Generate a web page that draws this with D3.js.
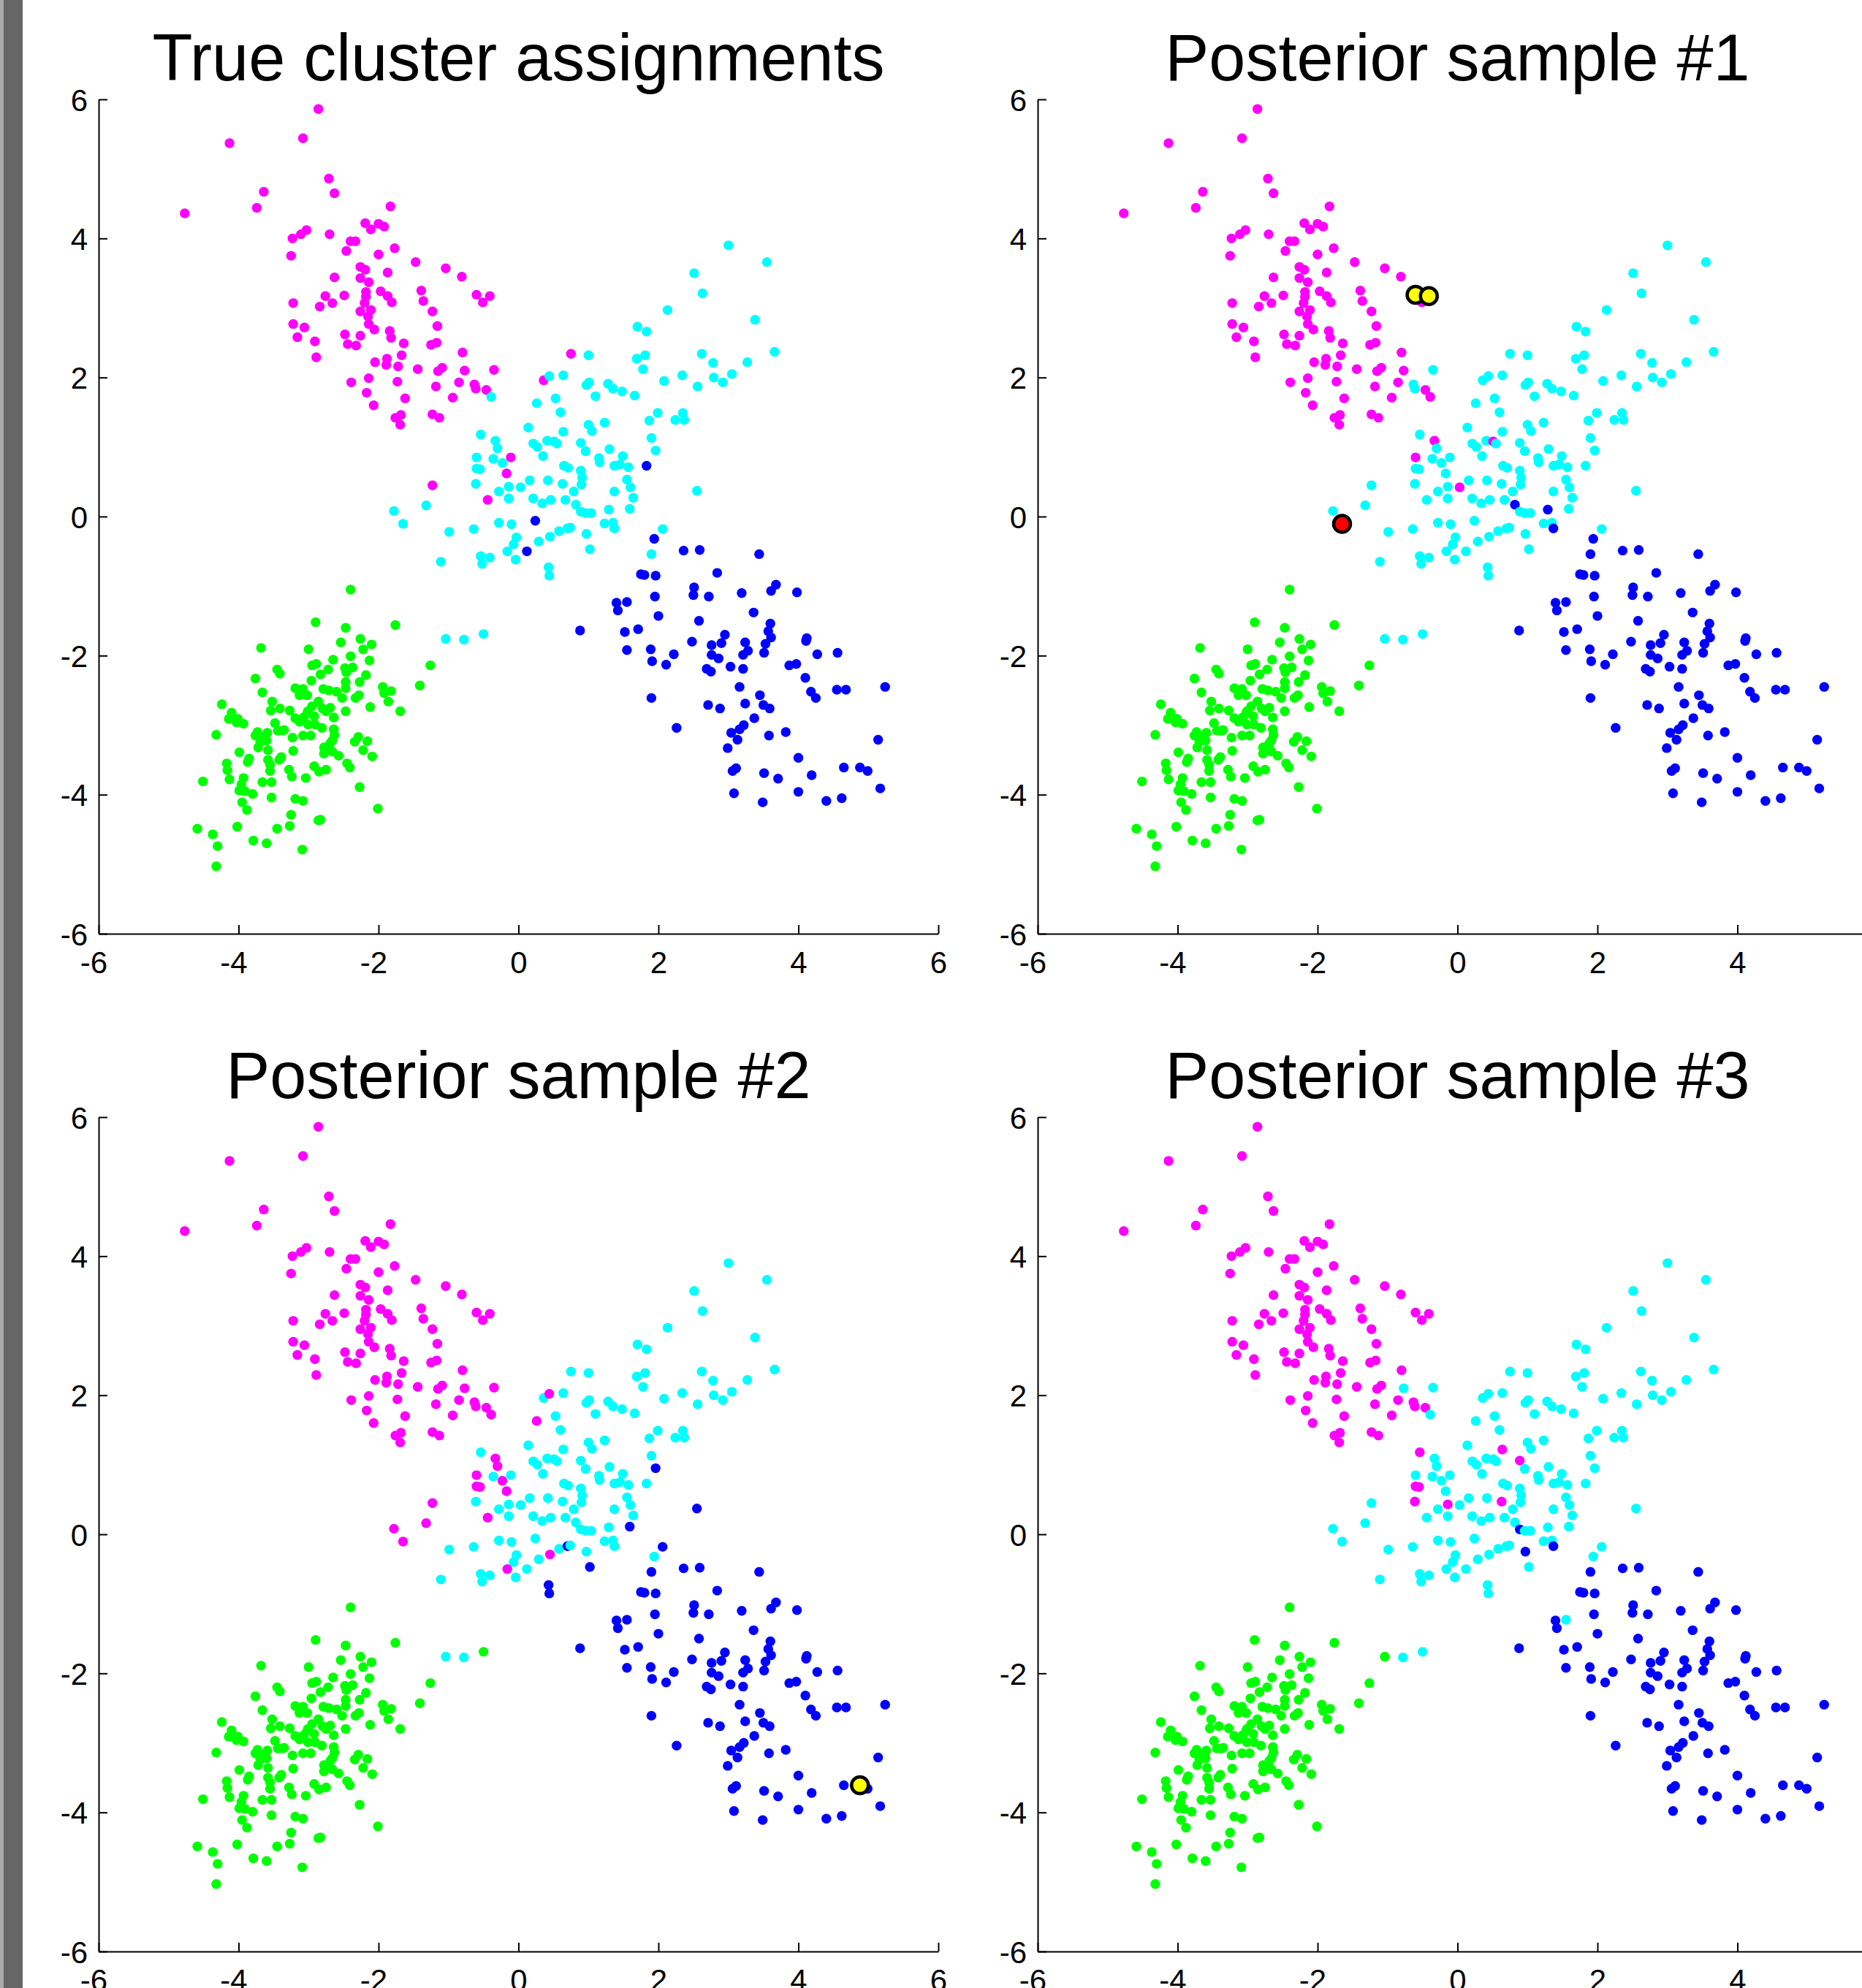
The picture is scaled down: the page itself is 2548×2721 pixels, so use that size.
<!DOCTYPE html>
<html>
<head>
<meta charset="utf-8">
<script src="https://cdn.jsdelivr.net/npm/d3@7"></script>
<style>
  body { margin: 0; background: #fff; overflow: hidden; }
  svg { display: block; }
  text { font-family: "Liberation Sans", Arial, Helvetica, sans-serif; }
</style>
</head>
<body>
<script>
// panel titles, in reading order
var titles = ["True cluster assignments", "Posterior sample #1", "Posterior sample #2", "Posterior sample #3"]
var tickValues = [-6, -4, -2, 0, 2, 4, 6]

// each point: [x, y, labels] -- labels = cluster in (truth, sample1, sample2, sample3)
// M magenta, C cyan, B blue, G green
var upperLeftPoints = [
  [-2.86,5.86,"MMMM"],[-3.08,5.44,"MMMM"],[-4.13,5.37,"MMMM"],[-2.71,4.86,"MMMM"],[-2.63,4.65,"MMMM"],
  [-3.64,4.67,"MMMM"],[-3.74,4.44,"MMMM"],[-4.77,4.36,"MMMM"],[-1.83,4.46,"MMMM"],[-2.19,4.22,"MMMM"],
  [-2.11,4.13,"MMMM"],[-2.00,4.21,"MMMM"],[-1.92,4.17,"MMMM"],[-3.03,4.12,"MMMM"],[-3.11,4.06,"MMMM"],
  [-3.23,4.00,"MMMM"],[-2.70,4.06,"MMMM"],[-2.40,3.96,"MMMM"],[-2.33,3.96,"MMMM"],[-2.46,3.82,"MMMM"],
  [-3.25,3.75,"MMMM"],[-2.00,3.77,"MMMM"],[-1.77,3.86,"MMMM"],[-1.47,3.66,"MMMM"],[-1.04,3.57,"MMMM"],
  [-0.81,3.45,"MMMM"],[-2.26,3.59,"MMMM"],[-2.19,3.55,"MMMM"],[-1.87,3.51,"MMMM"],[-2.63,3.44,"MMMM"],
  [-2.26,3.43,"MMMM"],[-2.14,3.37,"MMMM"],[-1.39,3.25,"MMMM"],[-0.60,3.19,"MMMM"],[-0.41,3.17,"MMMM"],
  [-0.51,3.08,"MMMM"],[-1.36,3.10,"MMMM"],[-1.23,2.95,"MMMM"],[-1.97,3.24,"MMMM"],[-1.87,3.17,"MMMM"],
  [-1.81,3.08,"MMMM"],[-2.18,3.23,"MMMM"],[-2.18,3.16,"MMMM"],[-2.20,3.07,"MMMM"],[-2.76,3.17,"MMMM"],
  [-2.49,3.18,"MMMM"],[-2.66,3.07,"MMMM"],[-2.84,3.02,"MMMM"],[-3.22,3.07,"MMMM"],[-2.26,2.95,"MMMM"],
  [-2.11,2.97,"MMMM"],[-2.15,2.88,"MMMM"],[-2.14,2.77,"MMMM"],[-2.06,2.69,"MMMM"],[-1.16,2.74,"MMMM"],
  [-3.22,2.77,"MMMM"],[-3.06,2.72,"MMMM"],[-3.16,2.58,"MMMM"],[-2.91,2.52,"MMMM"],[-2.89,2.29,"MMMM"],
  [-2.48,2.62,"MMMM"],[-2.26,2.60,"MMMM"],[-2.44,2.48,"MMMM"],[-2.32,2.46,"MMMM"],[-1.84,2.67,"MMMM"],
  [-1.82,2.57,"MMMM"],[-1.64,2.49,"MMMM"],[-1.67,2.32,"MMMM"],[-1.25,2.47,"MMMM"],[-1.17,2.50,"MMMM"],
  [-0.80,2.36,"MMMM"],[-2.05,2.22,"MMMM"],[-1.88,2.27,"MMMM"],[-1.89,2.18,"MMMM"],[-1.72,2.16,"MMMM"],
  [-1.44,2.12,"MMMM"],[-1.15,2.09,"MMMM"],[-1.09,2.14,"MMMM"],[-0.77,2.10,"MMMC"],[-0.35,2.11,"MCMC"],
  [-2.39,1.93,"MMMM"],[-2.14,1.99,"MMMM"],[-1.73,1.94,"MMMM"],[-1.18,1.87,"MMMM"],[-0.85,1.93,"MMMM"],
  [-0.63,1.90,"MCMM"],[-0.61,1.84,"MCMM"],[-0.46,1.82,"MMMM"],[-2.17,1.78,"MMMM"],[-1.62,1.70,"MMMM"],
  [-0.94,1.71,"MMMM"],[-2.07,1.60,"MMMM"],[-1.76,1.42,"MMMM"],[-1.68,1.46,"MMMM"],[-1.69,1.32,"MMMM"],
  [-1.23,1.47,"MMMM"],[-1.13,1.42,"MMMM"],[-0.39,1.72,"CMMC"],[-0.54,1.18,"CCCM"]
]

var centrePoints = [
  [2.51,3.50,"CCCC"],[2.63,3.21,"CCCC"],[2.13,2.97,"CCCC"],[1.70,2.73,"CCCC"],[1.83,2.66,"CCCC"],
  [0.75,2.34,"MCCC"],[1.00,2.32,"CCCC"],[1.69,2.27,"CCCC"],[1.81,2.32,"CCCC"],[1.78,2.12,"CCCC"],
  [2.62,2.34,"CCCC"],[0.36,1.96,"MCCC"],[0.44,2.02,"CCMC"],[0.64,2.03,"CCCC"],[0.97,1.89,"CCCC"],
  [1.01,1.93,"CCCC"],[1.28,1.91,"CCCC"],[1.35,1.84,"CCCC"],[1.48,1.80,"CCCC"],[1.66,1.74,"CCCC"],
  [1.10,1.73,"CCCC"],[2.08,1.95,"CCCC"],[2.34,2.03,"CCCC"],[2.56,1.87,"CCCC"],[0.26,1.63,"CCMC"],
  [0.53,1.70,"CCCC"],[0.60,1.50,"CCCC"],[1.99,1.49,"CCCC"],[1.87,1.38,"CCCC"],[2.24,1.39,"CCCC"],
  [2.35,1.49,"CCCC"],[2.37,1.39,"CCCC"],[0.14,1.28,"CCCC"],[0.64,1.22,"CCCM"],[1.00,1.32,"CCCC"],
  [1.05,1.23,"CCCC"],[1.23,1.35,"CCCC"],[1.90,1.13,"CCCC"],[-0.33,1.09,"CMMC"],[-0.30,0.98,"CCMC"],
  [-0.60,0.85,"CMMC"],[-0.60,0.69,"CCMM"],[-0.55,0.68,"CCMM"],[-0.36,0.83,"CCCC"],[-0.23,0.77,"CCMC"],
  [-0.11,0.85,"MCCC"],[-0.17,0.62,"MCMC"],[-0.61,0.47,"CCCM"],[-0.28,0.36,"CCCC"],[-0.14,0.43,"CCCM"],
  [0.03,0.42,"CMCC"],[0.16,0.52,"CCCC"],[0.42,0.52,"CCCC"],[0.21,1.05,"CCCC"],[0.27,1.00,"CCCC"],
  [0.41,1.09,"CCCC"],[0.51,1.08,"CMCC"],[0.55,1.05,"CCCC"],[0.35,0.87,"CCCC"],[0.89,1.06,"CCCM"],
  [0.96,0.94,"CCCC"],[0.65,0.73,"CCCC"],[0.71,0.70,"CCCC"],[0.89,0.66,"CCCC"],[0.91,0.56,"CCCC"],
  [0.90,0.46,"CCCC"],[1.15,0.84,"CCCC"],[1.16,0.78,"CCCC"],[1.30,0.97,"CCCC"],[1.49,0.87,"CCCC"],
  [1.37,0.73,"CCCC"],[1.45,0.75,"CCCC"],[1.57,0.71,"CCCC"],[1.83,0.73,"BCCC"],[1.96,0.95,"CCBC"],
  [1.55,0.53,"CCCC"],[1.60,0.42,"CCCC"],[1.64,0.27,"CCCC"],[1.59,0.11,"CCBC"],[1.37,0.36,"CCCC"],
  [2.55,0.37,"CCBC"],[0.63,0.47,"CCCM"],[0.79,0.36,"CCCC"],[0.67,0.24,"CCCC"],[0.21,0.26,"CCCC"],
  [0.34,0.19,"CCCC"],[0.46,0.24,"CCCC"],[-0.44,0.24,"MCMC"],[-0.14,0.26,"CCCC"],[-1.23,0.45,"MCMC"],
  [-1.32,0.16,"CCMC"],[-1.78,0.08,"CCMC"],[-1.65,-0.105,"CCMC"],[-0.99,-0.22,"CCCC"],[-0.64,-0.18,"CCCC"],
  [-0.28,-0.09,"CCCC"],[-0.10,-0.11,"CCCC"],[0.24,-0.06,"BCCC"],[0.82,0.17,"CBCC"],[0.89,0.07,"CCCB"],
  [0.96,0.05,"CCCC"],[1.04,0.05,"CCCC"],[1.29,0.10,"CBCC"],[1.23,-0.10,"CCCC"],[1.35,-0.09,"CCCC"],
  [1.37,-0.17,"CBCB"],[2.06,-0.18,"CCBC"],[0.58,-0.21,"CCCC"],[0.70,-0.17,"CCBC"],[0.74,-0.16,"CCCC"],
  [0.45,-0.29,"CCMC"],[0.29,-0.36,"CCCC"],[0.97,-0.25,"CCCB"],[1.02,-0.47,"CCBC"],[-0.03,-0.30,"CCCC"],
  [-0.07,-0.40,"CCCC"],[-0.16,-0.50,"CCMC"],[0.12,-0.50,"BCCC"],[-0.04,-0.62,"CCCC"],[-0.54,-0.57,"CCCC"],
  [-0.41,-0.59,"CCCC"],[-0.52,-0.68,"CCCC"],[-1.11,-0.65,"CCCC"],[0.43,-0.73,"CCBC"],[0.44,-0.85,"CCBC"],
  [1.94,-0.32,"BBCC"],[1.90,-0.54,"CBBB"],[2.36,-0.49,"BBBB"],[2.59,-0.48,"BBBB"],[1.75,-0.83,"BBBB"],
  [1.80,-0.84,"BBBB"],[1.96,-0.85,"BBBB"],[2.51,-1.02,"BBBB"]
]

var armPoints = [
  [3.00,3.90,"CCCC"],[3.55,3.66,"CCCC"],[3.38,2.83,"CCCC"],[3.66,2.37,"CCCC"],[2.78,2.21,"CCCC"],
  [3.27,2.22,"CCCC"],[2.79,2.00,"CCCC"],[2.92,1.93,"CCCC"],[3.05,2.05,"CCCC"]
]

// blue group, all "BBBB" unless a label is given
var lowerRightPoints = [
  [2.84,-0.81],[3.44,-0.54],[2.72,-1.15],[2.50,-1.13],[1.95,-1.15],[1.40,-1.24],[1.42,-1.35],[1.55,-1.23,"BBBC"],
  [3.19,-1.10],[3.61,-1.07],[3.68,-0.98],[3.98,-1.09],[3.36,-1.38],[2.00,-1.43],[0.88,-1.64],[1.52,-1.66],
  [1.71,-1.62],[2.58,-1.50],[3.60,-1.54],[3.57,-1.65],[3.61,-1.74],[3.53,-1.83],[3.51,-1.96],[2.95,-1.70],
  [4.12,-1.75],[4.11,-1.79],[1.55,-1.92],[1.89,-1.91],[1.91,-2.08],[2.11,-2.13],[2.22,-1.98],[2.48,-1.80],
  [2.76,-1.85],[2.90,-1.82],[2.76,-1.99],[2.86,-2.04],[2.69,-2.19],[2.75,-2.23],[3.03,-2.16],[3.21,-2.19],
  [3.24,-1.81],[3.28,-1.93],[3.21,-1.99],[4.27,-1.98],[4.56,-1.96],[3.87,-2.14],[3.97,-2.12],[4.10,-2.32],
  [3.16,-2.45],[3.45,-2.57],[4.18,-2.52],[4.25,-2.61],[4.55,-2.49],[4.68,-2.49],[5.24,-2.45],[2.71,-2.71],
  [2.88,-2.76],[3.24,-2.69],[3.50,-2.71],[3.59,-2.76],[1.90,-2.61],[3.37,-2.90],[3.22,-3.00],[3.16,-3.06],
  [3.04,-3.11],[3.13,-3.21],[3.58,-3.15],[3.82,-3.10],[2.26,-3.04],[2.99,-3.33],[5.14,-3.21],[4.00,-3.47],
  [3.06,-3.66],[3.11,-3.62],[3.51,-3.69],[3.71,-3.77],[4.19,-3.72],[4.65,-3.61],[4.88,-3.61],[4.99,-3.66],
  [5.17,-3.91],[3.08,-3.98],[3.49,-4.11],[4.00,-3.96],[4.40,-4.09],[4.62,-4.05]
]

// green group, all "GGGG" unless a label is given
var lowerLeftPoints = [
  [-2.40,-1.05],[-2.90,-1.52],[-2.47,-1.60],[-1.76,-1.56],[-2.26,-1.76],[-2.10,-1.84],[-2.22,-1.91],[-2.54,-1.81],
  [-3.68,-1.89],[-3.00,-1.91],[-2.65,-2.06],[-2.40,-2.01],[-2.13,-2.07],[-1.26,-2.14],[-1.41,-2.43],[-3.45,-2.20],
  [-3.41,-2.26],[-2.95,-2.14],[-2.89,-2.12],[-2.83,-2.27],[-2.72,-2.20],[-2.48,-2.18],[-2.37,-2.17],[-2.46,-2.24],
  [-2.18,-2.28],[-3.76,-2.33],[-2.96,-2.36],[-2.47,-2.38],[-2.47,-2.47],[-2.27,-2.38],[-3.19,-2.47],[-3.08,-2.48],
  [-3.13,-2.57],[-3.02,-2.57],[-2.79,-2.48],[-2.71,-2.50],[-2.60,-2.52],[-2.52,-2.61],[-2.33,-2.61],[-2.28,-2.57],
  [-1.94,-2.45],[-1.92,-2.54],[-1.82,-2.51],[-1.86,-2.66],[-3.66,-2.53],[-3.52,-2.66],[-4.24,-2.70],[-3.41,-2.76],
  [-3.27,-2.79],[-3.54,-2.79],[-2.86,-2.66],[-2.95,-2.73],[-3.01,-2.80],[-2.80,-2.76],[-2.75,-2.80],[-2.69,-2.75],
  [-2.64,-2.89],[-2.47,-2.80],[-2.12,-2.74],[-1.69,-2.80],[-4.10,-2.82],[-4.14,-2.91],[-4.01,-2.91],[-3.93,-2.98],
  [-4.03,-2.96],[-3.19,-2.90],[-3.13,-2.95],[-3.02,-2.83],[-3.07,-2.89],[-2.92,-2.87],[-3.48,-2.97],[-3.37,-3.08],
  [-3.44,-3.08],[-3.73,-3.10],[-3.76,-3.15],[-3.65,-3.18],[-3.69,-3.24],[-3.59,-3.11],[-4.32,-3.14],[-3.01,-2.99],
  [-2.91,-2.99],[-2.81,-3.04],[-2.64,-3.06],[-2.63,-3.14],[-2.66,-3.22],[-3.08,-3.15],[-2.97,-3.15],[-3.23,-3.18],
  [-3.35,-3.07],[-3.60,-3.22],[-2.69,-3.26],[-2.71,-3.32],[-2.66,-3.38],[-2.78,-3.32],[-2.78,-3.41],[-2.57,-3.44],
  [-2.29,-3.17],[-2.34,-3.24],[-2.16,-3.23],[-2.22,-3.36],[-2.09,-3.45],[-3.22,-3.37],[-3.99,-3.39],[-3.72,-3.32],
  [-3.58,-3.36],[-3.39,-3.46],[-3.42,-3.50],[-4.17,-3.55],[-4.16,-3.65],[-3.87,-3.53],[-3.85,-3.48],[-3.58,-3.50],
  [-3.55,-3.57],[-3.55,-3.66],[-4.13,-3.78],[-3.93,-3.76],[-3.96,-3.85],[-3.99,-3.94],[-3.91,-3.95],[-3.80,-3.99],
  [-3.66,-3.82],[-3.53,-3.82],[-3.28,-3.64],[-3.24,-3.74],[-3.04,-3.76],[-2.92,-3.59],[-2.85,-3.67],[-2.75,-3.64],
  [-2.45,-3.55],[-2.41,-3.61],[-4.51,-3.81],[-3.53,-4.04],[-3.19,-4.06],[-3.08,-4.09],[-2.27,-3.89],[-3.95,-4.11],
  [-3.88,-4.22],[-2.01,-4.20],[-3.25,-4.29],[-2.86,-4.37],[-2.83,-4.36],[-4.02,-4.46],[-4.59,-4.49],[-4.37,-4.57],
  [-3.45,-4.49],[-3.27,-4.45],[-4.30,-4.74],[-3.79,-4.66],[-3.60,-4.70],[-3.09,-4.79],[-4.32,-5.03],
  [-1.04,-1.76,"CCCG"],[-0.78,-1.77,"CCCC"],[-0.50,-1.69,"CCGC"]
]

// ringed points: panel index (0..3), x, y, kind
var markedPanel = [1, 1, 1, 2]
var markedX = [-0.60, -0.41, -1.65, 4.88]
var markedY = [3.19, 3.17, -0.105, -3.61]
var markedKind = ["Y", "Y", "R", "Y"]

var clusterColor = { M: "#ff00ff", C: "#00ffff", B: "#0000ff", G: "#00ff00" }
var markColor = { Y: "#ffff00", R: "#ff0000" }

// layout (pixels)
var width = 2548, height = 2721
var colLeft = [135, 1420]
var rowTop = [136, 1529]
var plotW = 1149, plotH = 1142

function fill(rows, code) {
  return rows.map(function(r) { return [r[0], r[1], r[2] || code] })
}

var allPoints = upperLeftPoints
  .concat(centrePoints, armPoints)
  .concat(fill(lowerRightPoints, "BBBB"), fill(lowerLeftPoints, "GGGG"))

var svg = d3.select("body").append("svg")
  .attr("width", width)
  .attr("height", height)

svg.append("rect").attr("width", width).attr("height", height).attr("fill", "#fff")

// grey strip on the left edge
svg.append("rect").attr("x", 0).attr("y", 0).attr("width", 5).attr("height", height).attr("fill", "#aaaaac")
svg.append("rect").attr("x", 5).attr("y", 0).attr("width", 26).attr("height", height).attr("fill", "#666666")

// plain hyphen for negatives, like the original
var fmt = d => String(d)

titles.forEach(function(title, p) {
  var left = colLeft[p % 2]
  var top = rowTop[Math.floor(p / 2)]

  var x = d3.scaleLinear().domain([-6, 6]).range([left, left + plotW])
  var y = d3.scaleLinear().domain([-6, 6]).range([top + plotH, top])

  var g = svg.append("g").attr("class", "panel")

  g.selectAll("circle.pt")
    .data(allPoints)
    .join("circle")
    .attr("class", "pt")
    .attr("cx", d => x(d[0]))
    .attr("cy", d => y(d[1]))
    .attr("r", 6.7)
    .attr("fill", d => clusterColor[d[2][p]])

  var marks = markedPanel.map((mp, i) => i).filter(i => markedPanel[i] == p)
  g.selectAll("circle.mark")
    .data(marks)
    .join("circle")
    .attr("class", "mark")
    .attr("cx", i => x(markedX[i]))
    .attr("cy", i => y(markedY[i]))
    .attr("r", 11.5)
    .attr("fill", i => markColor[markedKind[i]])
    .attr("stroke", "#000")
    .attr("stroke-width", 4.5)

  // axes, ticks pointing inward
  var xAxis = d3.axisBottom(x).tickValues(tickValues).tickFormat(fmt).tickSizeInner(-12).tickSizeOuter(0)
  var yAxis = d3.axisLeft(y).tickValues(tickValues).tickFormat(fmt).tickSizeInner(-12).tickSizeOuter(0)

  var gx = g.append("g").attr("transform", `translate(0,${top + plotH})`).call(xAxis)
  var gy = g.append("g").attr("transform", `translate(${left},0)`).call(yAxis)

  ;[gx, gy].forEach(function(a) {
    a.attr("font-size", null).attr("font-family", null)
    a.select(".domain").attr("stroke", "#000").attr("stroke-width", 2)
    a.selectAll(".tick line").attr("stroke", "#000").attr("stroke-width", 2)
    a.selectAll(".tick text").attr("fill", "#000").style("font-size", "42px")
  })

  gx.selectAll(".tick text")
    .attr("y", 54)
    .attr("dy", null)
    .attr("dx", d => d < 0 ? -7 : 0)

  gy.selectAll(".tick text")
    .attr("x", -15)
    .attr("dy", 15)

  g.append("text")
    .attr("x", left + plotW / 2)
    .attr("y", top - 26)
    .attr("text-anchor", "middle")
    .style("font-size", "90px")
    .attr("fill", "#000")
    .text(title)
})
</script>
</body>
</html>
